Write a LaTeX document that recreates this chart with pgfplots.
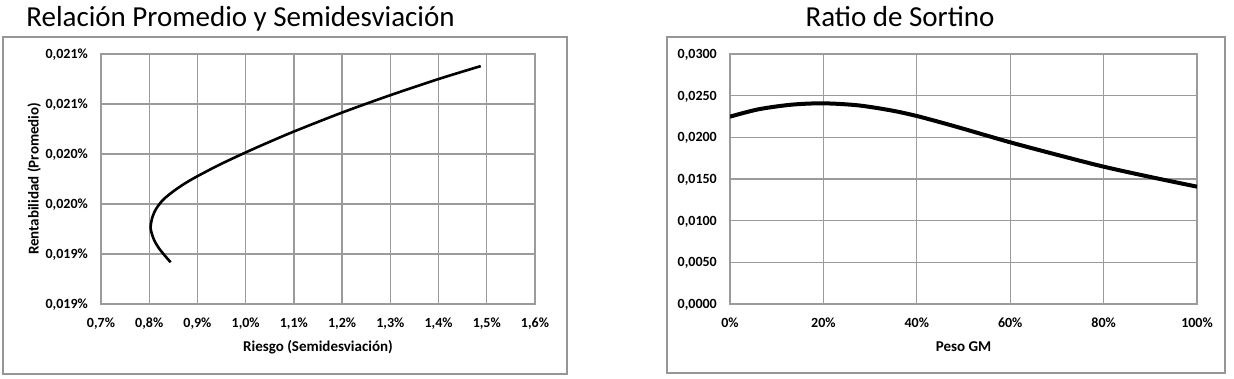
\documentclass[border=0pt]{standalone}
\usepackage{pgfplots}
\pgfplotsset{compat=1.18}
\usepackage{fontspec}
\setmainfont{Carlito}
\definecolor{gridc}{RGB}{155,155,155}
\definecolor{boxc}{RGB}{150,150,150}
\begin{document}
\begin{tikzpicture}
\useasboundingbox (0,0) rectangle (1234pt,378pt);
% chart area frames
\draw[boxc, line width=1.3pt] (3pt,4pt) rectangle (567pt,341pt);
\draw[boxc, line width=1.3pt] (667pt,5pt) rectangle (1225pt,341pt);
% titles
\node[anchor=base, inner sep=0pt, font=\fontsize{29}{34}\selectfont] at (240.5pt,351pt) {Relación Promedio y Semidesviación};
\node[anchor=base, inner sep=0pt, font=\fontsize{29}{34}\selectfont] at (900pt,351pt) {Ratio de Sortino};

\pgfplotsset{
  myaxis/.style={
    scale only axis,
    anchor=south west,
    height=250pt,
    scaled ticks=false,
    axis line style={gridc, line width=1.3pt},
    grid=major,
    major grid style={gridc, line width=1.3pt},
    major tick length=0pt,
    tick style={draw=none},
    ticklabel style={font=\fontsize{14}{16}\selectfont\bfseries, inner sep=0pt},
    xticklabel style={anchor=base, yshift=-23.5pt},
    yticklabel style={anchor=base east, xshift=-13pt, yshift=-4.5pt},
    label style={font=\fontsize{15}{18}\selectfont\bfseries, inner sep=0pt},
  }
}

\begin{axis}[myaxis,
  at={(101pt,74pt)}, width=434pt,
  xmin=0.7, xmax=1.6, ymin=0.0186, ymax=0.0211,
  xtick={0.7,0.8,0.9,1.0,1.1,1.2,1.3,1.4,1.5,1.6},
  xticklabels={{0,7\%},{0,8\%},{0,9\%},{1,0\%},{1,1\%},{1,2\%},{1,3\%},{1,4\%},{1,5\%},{1,6\%}},
  ytick={0.0186,0.0191,0.0196,0.0201,0.0206,0.0211},
  yticklabels={{0,019\%},{0,019\%},{0,020\%},{0,020\%},{0,021\%},{0,021\%}},
  xlabel={Riesgo (Semidesviación)},
  ylabel={Rentabilidad (Promedio)},
  xlabel style={at={(axis description cs:0.5,-0.188)}, anchor=base},
  ylabel style={at={(axis description cs:-0.144,0.5)}, anchor=base},
]
\addplot[black, line width=2.6pt, smooth, line cap=butt] coordinates {
(0.8444,0.019017)
(0.8222,0.019144)
(0.8098,0.019244)
(0.8029,0.019360)
(0.8071,0.019476)
(0.8154,0.019560)
(0.8290,0.019643)
(0.8498,0.019726)
(0.8741,0.019806)
(0.9004,0.019879)
(0.9467,0.019995)
(1.0006,0.020117)
(1.0436,0.020209)
(1.1002,0.020325)
(1.1998,0.020514)
(1.2994,0.020687)
(1.3996,0.020849)
(1.4875,0.020979)
};
\end{axis}

\begin{axis}[myaxis,
  at={(730pt,74pt)}, width=467pt,
  xmin=0, xmax=100, ymin=0, ymax=0.03,
  xtick={0,20,40,60,80,100},
  xticklabels={{0\%},{20\%},{40\%},{60\%},{80\%},{100\%}},
  ytick={0,0.005,0.01,0.015,0.02,0.025,0.03},
  yticklabels={{0,0000},{0,0050},{0,0100},{0,0150},{0,0200},{0,0250},{0,0300}},
  xlabel={Peso GM},
  xlabel style={at={(axis description cs:0.5,-0.188)}, anchor=base},
]
\addplot[black, line width=4pt, smooth] coordinates {
(0,0.02248)
(6.05,0.02336)
(13.2,0.02392)
(19.95,0.02408)
(27.4,0.02384)
(34.6,0.02322)
(40,0.02256)
(45.6,0.02172)
(49.9,0.02104)
(59.9,0.01942)
(70.2,0.01788)
(80,0.01648)
(90.2,0.01522)
(100,0.01408)
};
\end{axis}
\end{tikzpicture}
\end{document}
